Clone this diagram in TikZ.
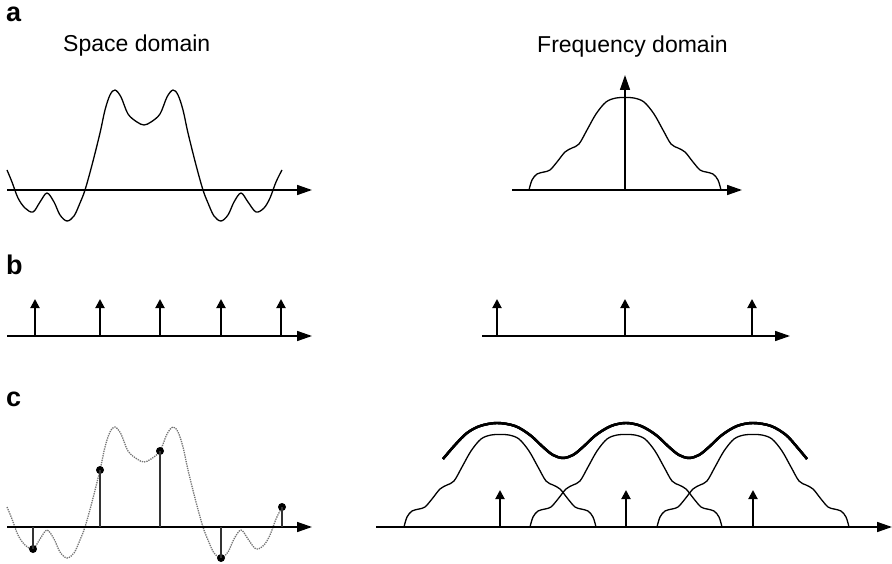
\documentclass[tikz,border=0pt]{standalone}
\usepackage{fontspec}
\setmainfont{Liberation Sans}
\usetikzlibrary{arrows.meta}

% signal in the space domain, drawn round its own axis
\newcommand{\spacesignal}[1]{%
  \draw[#1] plot[smooth, tension=0.55] coordinates {
    (7,-20) (12,-8) (18,8) (25,18) (33,22) (40,12) (47,3) (54,12) (60,25)
    (67,31) (74,26) (80,13) (85,0) (92,-25) (100,-57) (105,-80) (110,-95)
    (115,-100) (121,-93) (128,-76) (137,-68) (144,-65) (151,-68) (160,-76)
    (167,-93) (173,-100) (178,-95) (183,-80) (188,-57) (196,-25) (203,0)
    (208,13) (214,26) (221,31) (228,25) (234,12) (241,3) (248,12) (256,22)
    (264,18) (270,8) (276,-8) (282,-20)};}

% band limited spectrum, centred on the origin
\newcommand{\spectrum}[1]{%
  \draw[#1] plot[smooth, tension=0.55] coordinates {
    (-96,0) (-93,-10) (-88,-16) (-81,-18) (-75,-20) (-68,-28) (-60,-38)
    (-53,-42) (-46,-46) (-38,-60) (-29,-76) (-19,-88) (-9,-92) (0,-92.5)
    (9,-92) (19,-88) (29,-76) (38,-60) (46,-46) (53,-42) (60,-38) (68,-28)
    (75,-20) (81,-18) (88,-16) (93,-10) (96,0)};}

\begin{document}
\begin{tikzpicture}[x=1pt, y=-1pt,
        axis/.style={line width=1.5pt, -{Triangle[length=15pt, width=10pt]}},
        impulse/.style={line width=1.9pt, -{Triangle[length=9pt, width=9pt]}},
        signal/.style={line width=1.3pt},
        envelope/.style={line width=2.4pt},
        sampled/.style={black!55, densely dotted, line width=1.3pt},
        stem/.style={line width=1.4pt, black!80},
        dot/.style={circle, fill=black, inner sep=0pt, minimum size=8pt},
        panel/.style={anchor=base west, inner sep=0pt, font=\fontsize{27}{30}\selectfont\bfseries},
        heading/.style={anchor=base west, inner sep=0pt, font=\fontsize{23}{27}\selectfont},
    ]
    \useasboundingbox (0,0) rectangle (892,564);

    % Labels
    \node[panel] (lbla) at (6,22) {a};
    \node[panel] (lblb) at (6,275) {b};
    \node[panel] (lblc) at (6,406) {c};
    \node[heading] (spacetitle) at (63,52) {Space domain};
    \node[heading] (freqtitle) at (537,53) {Frequency domain};

    % a : signal and spectrum
    \begin{scope}[shift={(0,190)}]
        \spacesignal{signal}
        \draw[axis] (7,0) -- (312,0);
    \end{scope}
    \begin{scope}[shift={(625,190)}]
        \spectrum{signal}
        \draw[axis] (-113,0) -- (117,0);
        \draw[axis] (0,0) -- (0,-115);
    \end{scope}

    % b : impulse trains
    \draw[axis] (7,336) -- (312,336);
    \foreach \x in {35,100,160,221,281}
        \draw[impulse] (\x,336) -- ++(0,-37);
    \draw[axis] (482,336) -- (790,336);
    \foreach \x in {497,625,752}
        \draw[impulse] (\x,336) -- ++(0,-37);

    % c : sampled signal
    \begin{scope}[shift={(0,527)}]
        \spacesignal{sampled}
        \draw[axis] (7,0) -- (312,0);
        \foreach \x/\y [count=\i] in {33/22,100/-57,160/-76,221/31,282/-20} {
            \node[dot] (s\i) at (\x,\y) {};
            \draw[stem] (\x,0) -- (s\i.center);
        }
    \end{scope}

    % c : periodic spectrum
    \begin{scope}[shift={(0,527)}]
        \foreach \x in {500,626,753}
            \begin{scope}[shift={(\x,0)}]
                \spectrum{signal}
            \end{scope}
        \draw[envelope] plot[smooth, tension=0.55] coordinates {
            (443,-68) (455,-82) (467,-94) (480,-101) (497,-104) (515,-101)
            (530,-92) (543,-80) (553,-72) (563,-69) (573,-72) (583,-80)
            (596,-92) (611,-101) (626,-104) (641,-101) (656,-92) (669,-80)
            (679,-72) (689,-69) (699,-72) (709,-80) (722,-92) (737,-101)
            (753,-104) (771,-101) (786,-92) (797,-80) (807,-68)};
        \draw[axis] (376,0) -- (892,0);
        \foreach \x in {500,626,753}
            \draw[impulse] (\x,0) -- ++(0,-37);
    \end{scope}
\end{tikzpicture}
\end{document}
